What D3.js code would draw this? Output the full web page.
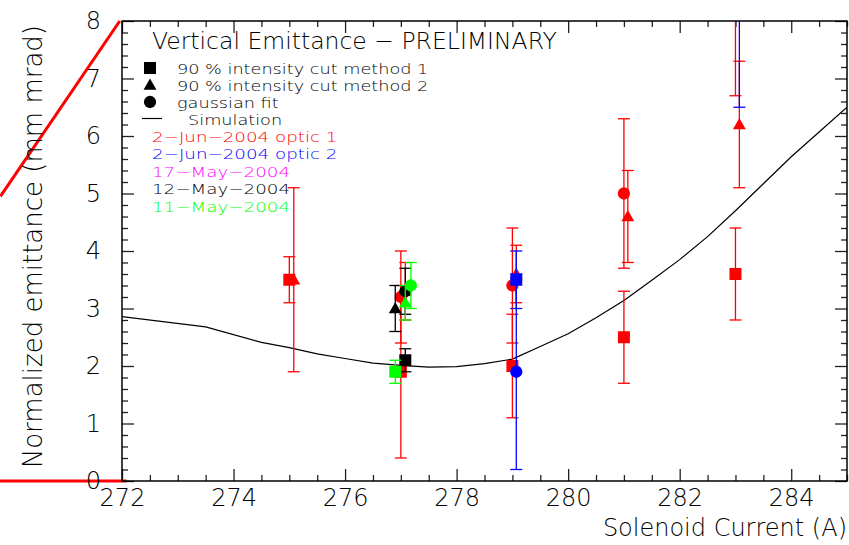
<!DOCTYPE html>
<html>
<head>
<meta charset="utf-8">
<script src="https://cdn.jsdelivr.net/npm/d3@7"></script>
<style>
  html, body { margin: 0; padding: 0; background: #fff; }
  svg { display: block; font-family: "DejaVu Sans", "Liberation Sans", sans-serif; font-weight: 200; }
</style>
</head>
<body>
<svg id="chart" width="849" height="545"></svg>
<script>
// ---- data ---------------------------------------------------------------
const seriesLabels = ["2\u2212Jun\u22122004 optic 1", "2\u2212Jun\u22122004 optic 2", "17\u2212May\u22122004", "12\u2212May\u22122004", "11\u2212May\u22122004"];
const seriesColors = ["#ff0000", "#0000ff", "#ff00ff", "#000000", "#00ff00"];
const methodLabels = ["90 % intensity cut method 1", "90 % intensity cut method 2", "gaussian fit"];

// one entry per measured point: series index, method index (0 square, 1 triangle, 2 circle)
const pointSeries  = [0, 0, 0, 0, 0, 0, 0, 0, 0, 0, 0, 0, 0, 0,   1, 1, 1,   3, 3, 3,   4, 4, 4];
const pointMethod  = [0, 1, 0, 2, 1, 0, 2, 1, 0, 2, 1, 0, 2, 1,   0, 2, 0,   1, 2, 0,   0, 1, 2];
const pointCurrent = [275.0, 275.08, 277.0, 277.0, 277.08, 279.0, 279.0, 279.07, 281.0, 281.0, 281.07, 283.0, 283.0, 283.07,
                      279.07, 279.07, 283.07,
                      276.9, 277.08, 277.08,
                      276.9, 277.08, 277.18];
const pointValue   = [3.5, 3.5, 1.9, 3.2, 3.3, 2.0, 3.4, 3.6, 2.5, 5.0, 4.6, 3.6, 8.5, 6.2,
                      3.5, 1.9, 8.8,
                      3.0, 3.3, 2.1,
                      1.9, 3.1, 3.4];
const pointError   = [0.4, 1.6, 1.5, 0.8, 0.5, 0.9, 1.0, 0.5, 0.8, 1.3, 0.8, 0.8, 1.8, 1.1,
                      0.5, 1.7, 2.3,
                      0.4, 0.4, 0.2,
                      0.2, 0.3, 0.4];

// simulated emittance vs solenoid current
const simCurrent   = [272.0, 273.5, 274.5, 275.0, 275.5, 276.0, 276.5, 277.0, 277.5, 278.0, 278.5, 279.0,
                      279.5, 280.0, 280.5, 281.0, 281.5, 282.0, 282.5, 283.0, 283.5, 284.0, 284.5, 285.0];
const simEmittance = [2.86, 2.68, 2.41, 2.32, 2.21, 2.13, 2.05, 2.01, 1.98, 1.99, 2.04, 2.12,
                      2.34, 2.56, 2.84, 3.14, 3.49, 3.85, 4.25, 4.70, 5.17, 5.64, 6.07, 6.50];

// stray red frame lines left of the pad (current, emittance)
const strayDiagonal   = [[269.82, 4.95], [271.96, 8.0]];
const strayHorizontal = [[269.8, 0.0], [272.08, 0.0]];

const xMajorTicks = [272, 274, 276, 278, 280, 282, 284];
const yMajorTicks = [0, 1, 2, 3, 4, 5, 6, 7, 8];

// ---- layout -------------------------------------------------------------
const plot = { left: 122, right: 847, top: 21, bottom: 481 };

const svg = d3.select("#chart");
const x = d3.scaleLinear().domain([272, 285]).range([plot.left, plot.right]);
const y = d3.scaleLinear().domain([0, 8]).range([plot.bottom, plot.top]);

const xMinor = d3.range(272, 285.001, 0.5).filter(v => !xMajorTicks.includes(v));
const yMinor = d3.range(0, 8.001, 0.2).map(v => +v.toFixed(1)).filter(v => !yMajorTicks.includes(v));

// clip region for everything drawn inside the frame
svg.append("defs").append("clipPath").attr("id", "pad")
  .append("rect")
  .attr("x", plot.left).attr("y", plot.top)
  .attr("width", plot.right - plot.left).attr("height", plot.bottom - plot.top);

// stray red lines outside the frame
const strayLine = d3.line().x(d => x(d[0])).y(d => y(d[1]));
[strayDiagonal, strayHorizontal].forEach(pts => {
  svg.append("path").attr("d", strayLine(pts))
    .attr("fill", "none").attr("stroke", "#ff0000").attr("stroke-width", 3);
});

// ---- axes ---------------------------------------------------------------
const tickColor = "#222";
function styleAxis(g) {
  g.select(".domain").remove();
  g.selectAll("line").attr("stroke", tickColor).attr("stroke-width", 1.3);
  g.selectAll("text").attr("fill", "#000").attr("font-size", 24)
    .attr("font-family", "'DejaVu Sans', sans-serif").attr("font-weight", 200);
}

// bottom
svg.append("g").attr("transform", `translate(0,${plot.bottom})`)
  .call(d3.axisBottom(x).tickValues(xMajorTicks).tickSize(-12).tickPadding(8).tickFormat(d3.format("d")))
  .call(styleAxis);
svg.append("g").attr("transform", `translate(0,${plot.bottom})`)
  .call(d3.axisBottom(x).tickValues(xMinor).tickSize(-6).tickFormat(""))
  .call(styleAxis);
// top
svg.append("g").attr("transform", `translate(0,${plot.top})`)
  .call(d3.axisTop(x).tickValues(xMajorTicks).tickSize(-12).tickFormat(""))
  .call(styleAxis);
svg.append("g").attr("transform", `translate(0,${plot.top})`)
  .call(d3.axisTop(x).tickValues(xMinor).tickSize(-6).tickFormat(""))
  .call(styleAxis);
// left
svg.append("g").attr("transform", `translate(${plot.left},0)`)
  .call(d3.axisLeft(y).tickValues(yMajorTicks).tickSize(-12).tickPadding(21).tickFormat(d3.format("d")))
  .call(styleAxis);
svg.append("g").attr("transform", `translate(${plot.left},0)`)
  .call(d3.axisLeft(y).tickValues(yMinor).tickSize(-6).tickFormat(""))
  .call(styleAxis);
// right
svg.append("g").attr("transform", `translate(${plot.right},0)`)
  .call(d3.axisRight(y).tickValues(yMajorTicks).tickSize(-12).tickFormat(""))
  .call(styleAxis);
svg.append("g").attr("transform", `translate(${plot.right},0)`)
  .call(d3.axisRight(y).tickValues(yMinor).tickSize(-6).tickFormat(""))
  .call(styleAxis);

// axis titles
svg.append("text")
  .attr("x", plot.right).attr("y", 536)
  .attr("text-anchor", "end").attr("font-size", 24)
  .text("Solenoid Current (A)");
svg.append("text")
  .attr("transform", `translate(42,${plot.top + 4}) rotate(-90)`)
  .attr("text-anchor", "end").attr("font-size", 26)
  .text("Normalized emittance (mm mrad)");

// ---- plot contents ------------------------------------------------------
const inner = svg.append("g").attr("clip-path", "url(#pad)");

// simulation curve
inner.append("path")
  .datum(simCurrent.map((c, i) => [c, simEmittance[i]]))
  .attr("d", d3.line().x(d => x(d[0])).y(d => y(d[1])))
  .attr("fill", "none").attr("stroke", "#000").attr("stroke-width", 1.2);

const shapeOf = [d3.symbolSquare, d3.symbolTriangle, d3.symbolCircle];
const sizeOf  = [144, 72, 118];
function markerPath(m) { return d3.symbol().type(shapeOf[m]).size(sizeOf[m])(); }

const points = pointCurrent.map((c, i) => ({
  s: pointSeries[i], m: pointMethod[i], c, v: pointValue[i], e: pointError[i]
}));

const capHalf = 6;
// drawn series by series so later dates sit on top
d3.range(seriesLabels.length).forEach(si => {
  const pts = points.filter(p => p.s === si);
  const col = seriesColors[si];
  const g = inner.append("g");
  pts.forEach(p => {
    const px = x(p.c), y1 = y(p.v + p.e), y0 = y(p.v - p.e);
    g.append("line").attr("x1", px).attr("x2", px).attr("y1", y1).attr("y2", y0)
      .attr("stroke", col).attr("stroke-width", 1.3);
    [y1, y0].forEach(yy => g.append("line")
      .attr("x1", px - capHalf).attr("x2", px + capHalf).attr("y1", yy).attr("y2", yy)
      .attr("stroke", col).attr("stroke-width", 1.3));
  });
  pts.forEach(p => {
    g.append("path").attr("d", markerPath(p.m))
      .attr("transform", `translate(${x(p.c)},${y(p.v) + (p.m === 1 ? 1 : 0)})`)
      .attr("fill", col);
  });
});

// frame
svg.append("rect")
  .attr("x", plot.left).attr("y", plot.top)
  .attr("width", plot.right - plot.left).attr("height", plot.bottom - plot.top)
  .attr("fill", "none").attr("stroke", "#000").attr("stroke-width", 1.5);

// ---- legend -------------------------------------------------------------
const leg = svg.append("g");
leg.append("text").attr("x", 152).attr("y", 49).attr("font-size", 23.5)
  .text("Vertical Emittance \u2212 PRELIMINARY");

// legend entries use a wide, compact lettering
const legendFont = 14.5, legendStretch = 1.22, dateStretch = 1.26;
function legendText(px, py, str, stretch) {
  return leg.append("text")
    .attr("transform", `translate(${px},${py}) scale(${stretch},1)`)
    .attr("font-size", legendFont).text(str);
}

const rowY = [68, 85, 102];
methodLabels.forEach((lab, i) => {
  leg.append("path").attr("d", markerPath(i))
    .attr("transform", `translate(150,${rowY[i] + (i === 1 ? 1 : 0)})`).attr("fill", "#000");
  legendText(177, rowY[i] + 6, lab, legendStretch);
});
leg.append("line").attr("x1", 142).attr("x2", 162).attr("y1", 118.5).attr("y2", 118.5)
  .attr("stroke", "#000").attr("stroke-width", 1.2);
legendText(188, 125, "Simulation", legendStretch);

seriesLabels.forEach((lab, i) => {
  legendText(152, 142 + i * 17.4, lab, dateStretch).attr("fill", seriesColors[i]);
});
</script>
</body>
</html>
